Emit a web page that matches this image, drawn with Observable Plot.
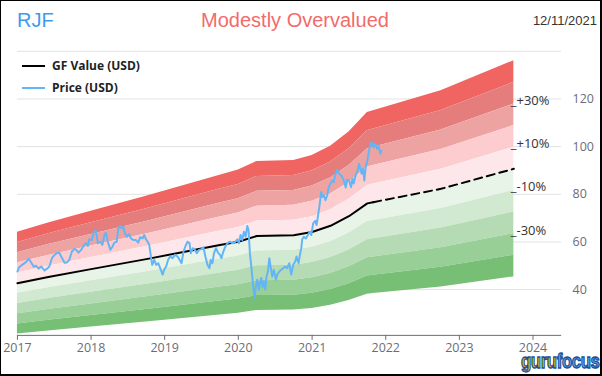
<!DOCTYPE html>
<html>
<head>
<meta charset="utf-8">
<script src="https://cdn.jsdelivr.net/npm/d3@7"></script>
<script src="https://cdn.jsdelivr.net/npm/@observablehq/plot@0.6"></script>
<style>
  html, body { margin: 0; padding: 0; background: #fff; }
  #wrap { position: relative; width: 602px; height: 376px; box-sizing: border-box; border: 1px solid #000; border-right-width: 2px; border-bottom-width: 2px; overflow: hidden; font-family: "Liberation Sans", Arial, sans-serif; }
  #chart { position: absolute; left: -1px; top: -1px; }
  .hdr { position: absolute; white-space: nowrap; }
  #ticker { left: 16px; top: 8px; font-size: 20px; color: #3d9be9; }
  #status { left: 0; width: 588px; text-align: center; top: 8px; font-size: 20px; color: #f26b6b; }
  #date { right: 3px; top: 12px; font-size: 13px; color: #333; }
  .leg { position: absolute; left: 21px; font-family: "Open Sans", sans-serif; font-weight: bold; font-size: 12px; color: #222; display: flex; align-items: center; }
  .leg i { display: inline-block; width: 23px; height: 2px; margin-right: 7px; }
  #logo { position: absolute; left: 520px; top: 349px; font-family: "Liberation Sans", Arial, sans-serif; font-weight: bold; font-size: 21px; line-height: 21px; letter-spacing: -0.5px; transform: scaleX(0.8); transform-origin: left top; -webkit-text-stroke: 1.3px #1b4f9c; white-space: nowrap; }
</style>
</head>
<body>
<div id="wrap">
  <div id="chart"></div>
  <div class="hdr" id="ticker">RJF</div>
  <div class="hdr" id="status">Modestly Overvalued</div>
  <div class="hdr" id="date">12/11/2021</div>
  <div class="leg" style="top:56px"><i style="background:#000"></i>GF Value (USD)</div>
  <div class="leg" style="top:78px"><i style="background:#64b5f6"></i>Price (USD)</div>
  <div id="logo"><span style="color:#f6a81c">guru</span><span style="color:#5aa6e6">focus</span></div>
</div>
<script>
// ---- data ----
const gfYears  = [2017.00, 2017.42, 2018.00, 2018.75, 2019.75, 2020.00, 2020.25, 2020.75, 2021.00, 2021.25, 2021.50, 2021.75, 2021.83, 2022.75, 2023.74];
const gfValues = [42.7,    45.3,    48.6,    52.8,    58.7,    60.1,    62.5,    62.8,    64.2,    66.8,    70.8,    76.2,    76.7,    82.3,    90.7];
const gfLastActualYear = 2021.83;

const priceYears = [
  2017.000,2017.018,2017.064,2017.108,2017.153,2017.189,2017.221,2017.253,2017.288,2017.325,2017.369,2017.402,2017.433,2017.470,2017.505,2017.537,2017.568,2017.605,2017.640,2017.673,
  2017.704,2017.740,2017.775,2017.808,2017.830,2017.866,2017.897,2017.930,2017.957,2017.974,2018.011,2018.038,2018.065,2018.092,2018.123,2018.154,2018.181,2018.200,2018.227,2018.263,
  2018.290,2018.317,2018.349,2018.371,2018.394,2018.417,2018.438,2018.461,2018.488,2018.516,2018.543,2018.574,2018.610,2018.641,2018.668,2018.701,2018.723,2018.746,2018.769,2018.790,
  2018.813,2018.831,2018.858,2018.885,2018.912,2018.939,2018.972,2018.993,2019.020,2019.047,2019.074,2019.107,2019.138,2019.175,2019.202,2019.229,2019.256,2019.283,2019.310,2019.337,
  2019.355,2019.382,2019.409,2019.436,2019.467,2019.499,2019.526,2019.553,2019.581,2019.608,2019.625,2019.648,2019.670,2019.697,2019.724,2019.751,2019.770,2019.797,2019.824,2019.851,
  2019.886,2019.919,2019.950,2019.987,2020.008,2020.031,2020.054,2020.076,2020.099,2020.122,2020.139,2020.157,2020.176,2020.189,2020.203,2020.221,2020.238,2020.257,2020.279,2020.292,
  2020.311,2020.329,2020.346,2020.365,2020.383,2020.401,2020.420,2020.437,2020.460,2020.482,2020.509,2020.528,2020.555,2020.582,2020.609,2020.636,2020.663,2020.690,2020.717,2020.744,
  2020.771,2020.789,2020.816,2020.834,2020.853,2020.866,2020.888,2020.915,2020.942,2020.969,2020.988,2021.015,2021.042,2021.060,2021.077,2021.104,2021.123,2021.141,2021.158,2021.181,
  2021.204,2021.226,2021.249,2021.276,2021.294,2021.317,2021.340,2021.367,2021.394,2021.421,2021.438,2021.456,2021.475,2021.502,2021.529,2021.547,2021.564,2021.591,2021.618,2021.637,
  2021.655,2021.673,2021.692,2021.709,2021.727,2021.746,2021.767,2021.790,2021.813,2021.835,2021.858,2021.881,2021.903,2021.926,2021.940
];
const priceValues = [
  47.6,49.2,50.4,51.3,52.9,51.3,49.6,50.0,48.8,49.7,48.0,48.8,49.7,53.3,54.6,55.4,55.5,53.3,51.3,51.4,
  52.5,56.0,57.1,56.4,55.5,56.7,58.3,59.5,58.3,61.1,60.8,64.3,64.7,59.5,60.1,58.8,62.9,63.9,60.1,56.7,
  58.0,59.7,60.1,65.7,66.7,65.7,66.4,63.6,62.2,63.3,61.5,60.8,60.8,59.7,62.0,61.5,62.9,61.1,60.1,58.8,
  53.9,50.4,52.5,50.4,51.1,49.0,46.3,48.3,49.7,52.5,53.9,53.2,54.6,53.9,52.5,51.1,56.0,58.3,60.1,59.5,
  55.3,57.4,56.7,55.3,56.7,57.0,57.8,53.9,50.4,49.0,52.5,51.1,55.3,57.4,55.5,54.6,53.2,56.0,58.0,59.5,
  60.1,59.5,59.7,61.1,59.5,62.9,60.8,64.3,62.2,66.7,65.0,55.3,49.7,45.5,40.7,36.5,41.4,44.2,40.0,42.8,
  44.9,41.1,43.5,40.0,45.5,47.6,53.2,49.7,45.5,48.3,44.2,46.3,47.6,48.3,49.0,49.7,49.0,51.1,46.3,50.4,
  51.8,53.9,51.1,54.6,57.4,61.1,62.2,61.5,62.9,64.3,62.9,67.8,68.9,67.1,70.3,76.1,81.0,78.9,79.6,77.5,
  79.6,83.0,84.5,85.8,85.1,88.6,90.3,88.6,87.9,86.5,85.1,82.8,86.1,85.8,83.0,86.5,84.5,87.9,90.0,92.8,
  90.7,88.6,90.7,85.8,91.4,93.5,97.0,101.1,101.8,99.7,101.1,99.0,100.4,97.0,98.3
];

const bandLow  = [1.4, 1.3, 1.2, 1.1, 1.0, 0.9, 0.8, 0.7, 0.6, 0.5];
const bandHigh = [1.5, 1.4, 1.3, 1.2, 1.1, 1.0, 0.9, 0.8, 0.7, 0.6];
const bandColors = ["#f06461", "#e47d7c", "#eea3a3", "#fccccf", "#fee7ea", "#e9f4e8", "#d1e9d0", "#b4dbb3", "#98cf97", "#76bf75"];

const pctMultipliers = [1.3, 1.1, 0.9, 0.7];
const pctLabels = ["+30%", "+10%", "-10%", "-30%"];

const yGrid = [40, 60, 80, 100, 120, 140];
const yTickLabels = [40, 60, 80, 100, 120];
const xTickYears = [2017, 2018, 2019, 2020, 2021, 2022, 2023, 2024];
const yDomain = [20.8, 140];
const xDomainYears = [2017.0, 2024.388];

// ---- helpers ----
function yd(t) {
  const y = Math.floor(t);
  const s = Date.UTC(y, 0, 1), e = Date.UTC(y + 1, 0, 1);
  return new Date(s + (t - y) * (e - s));
}

const gf = gfYears.map((t, i) => ({date: yd(t), t, v: gfValues[i]}));
const gfSolid = gf.filter(d => d.t <= gfLastActualYear);
const gfDash = gf.filter(d => d.t >= gfLastActualYear);
const price = priceYears.map((t, i) => ({date: yd(t), v: priceValues[i]}));
const last = gf[gf.length - 1];
const pct = pctMultipliers.map((m, i) => ({date: last.date, v: last.v * m, label: "_" + pctLabels[i]}));

const bandMarks = bandLow.map((lo, i) =>
  Plot.areaY(gf, {x: "date", y1: d => d.v * lo, y2: d => d.v * bandHigh[i], fill: bandColors[i], curve: "linear"})
);

const chart = Plot.plot({
  width: 602,
  height: 376,
  marginTop: 51,
  marginBottom: 40,
  marginLeft: 17,
  marginRight: 39,
  style: {fontFamily: "'Open Sans', sans-serif", fontSize: "12.5px", background: "transparent", color: "#6c6c78", overflow: "visible"},
  x: {type: "utc", domain: xDomainYears.map(yd), ticks: xTickYears.map(y => yd(y)), tickFormat: d3.utcFormat("%Y"), tickSize: 5, tickPadding: 3, label: null},
  y: {domain: yDomain, axis: "right", ticks: yTickLabels, tickSize: 0, tickPadding: 11, label: null},
  marks: [
    Plot.ruleY(yGrid, {stroke: "#e2e2e2", strokeWidth: 1}),
    ...bandMarks,
    Plot.line(gfSolid, {x: "date", y: "v", stroke: "#000", strokeWidth: 2}),
    Plot.line(gfDash, {x: "date", y: "v", stroke: "#000", strokeWidth: 2, strokeDasharray: "8,5"}),
    Plot.line(price, {x: "date", y: "v", stroke: "#64b5f6", strokeWidth: 2}),
    Plot.text(pct, {x: "date", y: "v", text: "label", textAnchor: "start", lineAnchor: "bottom", dx: -3, dy: 1, fill: "#333", fontSize: 13}),
    Plot.ruleY([yDomain[0]], {stroke: "#6c6c78", strokeWidth: 1})
  ]
});
document.getElementById("chart").appendChild(chart);
</script>
</body>
</html>
